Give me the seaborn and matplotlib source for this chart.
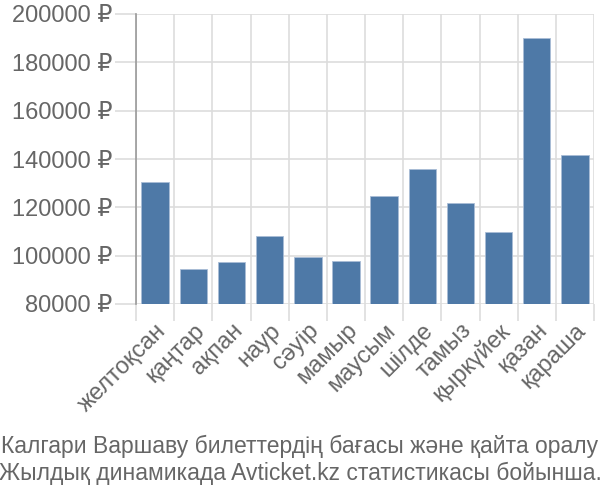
import matplotlib
matplotlib.use("Agg")
import matplotlib.pyplot as plt
import seaborn as sns
import pandas as pd
from matplotlib.ticker import FixedLocator, FuncFormatter

months = ["желтоқсан", "қаңтар", "ақпан", "наур", "сәуір", "мамыр",
          "маусым", "шілде", "тамыз", "қыркүйек", "қазан", "қараша"]
prices = [130600, 94500, 97250, 108300, 99300, 97900,
          124800, 135700, 121700, 109700, 189900, 141700]
y_ticks = [80000, 100000, 120000, 140000, 160000, 180000, 200000]
title_lines = ["Калгари Варшаву билеттердің бағасы және қайта оралу",
               "Жылдық динамикада Avticket.kz статистикасы бойынша."]

sns.set_theme(style="white")
plt.rcParams['font.family'] = ['Liberation Sans', 'DejaVu Sans']

df = pd.DataFrame({"month": months, "price": prices})

fig = plt.figure(figsize=(6, 5), dpi=100)
ax = fig.add_axes([0.2267, 0.392, 0.7633, 0.58])

sns.barplot(data=df, x="month", y="price", color="#4e79a7", saturation=1,
            width=0.72, edgecolor="#a9bdd6", linewidth=0.6, ax=ax, zorder=3)

ax.set_ylim(y_ticks[0], y_ticks[-1])
ax.set_xlim(-0.5, len(months) - 0.5)
ax.yaxis.set_major_locator(FixedLocator(y_ticks))
ax.yaxis.set_major_formatter(FuncFormatter(lambda v, p: f"{int(v)} ₽"))
ax.xaxis.set_minor_locator(FixedLocator([i - 0.5 for i in range(len(months) + 1)]))

ax.grid(True, axis="y", which="major", color="#dddddd", linewidth=1.2, zorder=0)
ax.grid(True, axis="x", which="minor", color="#dddddd", linewidth=1.2, zorder=0)
ax.set_axisbelow(True)

for s in ["top", "right", "bottom"]:
    ax.spines[s].set_visible(False)
ax.spines["left"].set_color("#999999")
ax.spines["left"].set_linewidth(1.2)

ax.tick_params(axis="y", which="major", length=15, color="#dddddd", width=1.2,
               labelsize=17, labelcolor="#666666", pad=2, left=True)
ax.tick_params(axis="x", which="major", length=0, labelsize=17,
               labelcolor="#666666", pad=11)
ax.tick_params(axis="x", which="minor", length=12, color="#dddddd", width=1.2,
               bottom=True)
plt.setp(ax.get_xticklabels(), rotation=45, ha="right", rotation_mode="anchor")

ax.set_xlabel("")
ax.set_ylabel("")

fig.text(0.5, 0.108, title_lines[0], ha="center", va="center",
         fontsize=16.5, color="#666666")
fig.text(0.5, 0.054, title_lines[1], ha="center", va="center",
         fontsize=16.5, color="#666666")

fig.savefig("out.png", dpi=100)
